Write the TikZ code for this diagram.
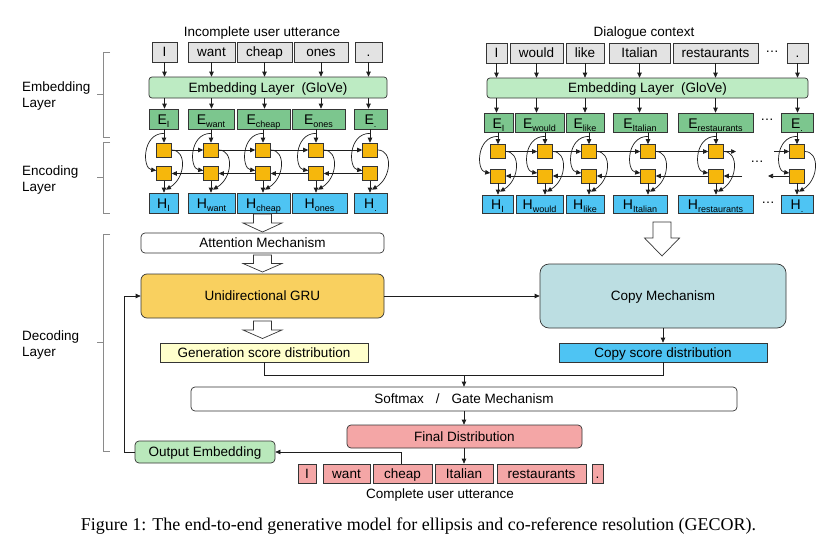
\documentclass[tikz,border=0pt]{standalone}
\usepackage{fontspec}
\setmainfont{Liberation Sans}
\newfontfamily\capfont{Liberation Serif}
\usetikzlibrary{arrows.meta,calc}
\definecolor{wgray}{HTML}{E3E3E3}
\definecolor{embg}{HTML}{BDEBC3}
\definecolor{eg}{HTML}{7CC68E}
\definecolor{sqc}{HTML}{F6B70C}
\definecolor{hb}{HTML}{4EC4F3}
\definecolor{gruc}{HTML}{F9D05F}
\definecolor{genc}{HTML}{FFFFCC}
\definecolor{copyc}{HTML}{BCDEE2}
\definecolor{finc}{HTML}{F4A6A6}
\definecolor{outc}{HTML}{B9E8BB}
\definecolor{brk}{HTML}{8A8A8A}
\definecolor{ln}{HTML}{1E1E1E}
\newcommand\bx[7]{\node[#6, minimum width={#4-#2}, minimum height={#5-#3}] (#1) at ({(#2+#4)/2},{(#3+#5)/2}) {#7};}
\newcommand\sbs[1]{\raisebox{-3.2pt}{\fontsize{9}{9}\selectfont #1}}
\newcommand\rnncol[6]{%
 \node[sqr] (#1t) at (#2,#3) {};
 \node[sqr] (#1b) at (#2,#4) {};
 \coordinate (#1e) at (#1t.north |- #5.south);
 \coordinate (#1h) at (#1b.south |- #6.north);
 \draw[arr] (#1e) -- (#1t.north);
 \draw[arr] (#1b.south) -- (#1h);
 \draw[arr] ($(#1e)+(0,4)$) .. controls +(-22,0) and +(-14,-2) .. ($(#1b.west)+(0,-3)$);
 \draw[arr] (#1t.east) .. controls +(15,0) and +(20,-12) .. ($(#1h)+(2,-3)$);
}
\newcommand\blockarrow[6]{%
 \draw[hollow] ({#1-#5},#2) -- ({#1+#5},#2) -- ({#1+#5},#3) -- ({#1+#6},#3) -- (#1,#4) -- ({#1-#6},#3) -- ({#1-#5},#3) -- cycle;}
\tikzset{
 base/.style={draw=ln!90, line width=0.7pt, inner sep=0pt, font=\fontsize{13.5}{15}\selectfont, text height=9.7pt, text depth=0pt},
 word/.style={base, fill=wgray},
 emb/.style={base, fill=embg, rounded corners=3pt},
 ebox/.style={base, fill=eg, font=\fontsize{14}{15}\selectfont, text height=11pt, text depth=0pt},
 hbox/.style={ebox, fill=hb},
 sqr/.style={draw=ln!90, line width=0.6pt, fill=sqc, minimum width=15pt, minimum height=14pt, inner sep=0pt},
 plain/.style={font=\fontsize{13.5}{15}\selectfont, inner sep=0pt},
 arr/.style={draw=ln, line width=0.7pt, -{Triangle[length=5pt,width=4.5pt]}},
 lin/.style={draw=ln, line width=0.7pt},
 hollow/.style={draw=ln!90, line width=0.7pt, fill=white},
 brace/.style={draw=brk, line width=0.8pt},
}
\begin{document}
\begin{tikzpicture}[x=1pt,y=-1pt]
\useasboundingbox (0,0) rectangle (832,543);
\fill[white] (0,0) rectangle (832,543);

% ---------- titles ----------
\node[plain, anchor=base] (tL) at (262,37) {Incomplete user utterance};
\node[plain, anchor=base] (tR) at (644,37) {Dialogue context};

% ---------- left encoder ----------
\bx{wL1}{152}{42}{177}{62}{word}{I}
\bx{wL2}{188}{42}{235}{62}{word}{want}
\bx{wL3}{237}{42}{292}{62}{word}{cheap}
\bx{wL4}{294}{42}{348}{62}{word}{ones}
\bx{wL5}{355}{42}{382}{62}{word}{.}
\bx{embL}{149}{77}{387}{98}{emb}{Embedding Layer\hspace{7pt}(GloVe)}
\bx{EL1}{149}{109}{178}{129}{ebox}{E\sbs{I}}
\bx{EL2}{188}{109}{234}{129}{ebox}{E\sbs{want}}
\bx{EL3}{237}{109}{290}{129}{ebox}{E\sbs{cheap}}
\bx{EL4}{292}{109}{345}{129}{ebox}{E\sbs{ones}}
\bx{EL5}{354}{109}{387}{129}{ebox}{E\sbs{.}}
\bx{HL1}{149}{193}{178}{213}{hbox}{H\sbs{I}}
\bx{HL2}{188}{193}{235}{213}{hbox}{H\sbs{want}}
\bx{HL3}{237}{193}{290}{213}{hbox}{H\sbs{cheap}}
\bx{HL4}{292}{193}{347}{213}{hbox}{H\sbs{ones}}
\bx{HL5}{354}{193}{387}{213}{hbox}{H\sbs{.}}
\foreach \i in {1,...,5}{
  \draw[arr] (wL\i.south) -- (wL\i.south |- embL.north);
  \draw[arr] (wL\i.south |- embL.south) -- (wL\i.south |- EL\i.north);
}
\rnncol{L1}{164}{150}{173.5}{EL1}{HL1}
\rnncol{L2}{211}{150}{173.5}{EL2}{HL2}
\rnncol{L3}{263}{150}{173.5}{EL3}{HL3}
\rnncol{L4}{316}{150}{173.5}{EL4}{HL4}
\rnncol{L5}{370}{150}{173.5}{EL5}{HL5}
\foreach \i/\j in {1/2,2/3,3/4,4/5}{
  \draw[arr] (L\i t.east) -- (L\j t.west);
  \draw[arr] (L\j b.west) -- (L\i b.east);
}

% ---------- right encoder ----------
\bx{wR1}{486}{43}{507}{63}{word}{I}
\bx{wR2}{510}{43}{563}{63}{word}{would}
\bx{wR3}{566}{43}{604}{63}{word}{like}
\bx{wR4}{609}{43}{670}{63}{word}{Italian}
\bx{wR5}{673}{43}{758}{63}{word}{restaurants}
\bx{wR6}{787}{43}{808}{63}{word}{.}
\node[plain] (dW) at (772,52) {\ldots};
\bx{embR}{487}{78}{808}{98}{emb}{Embedding Layer\hspace{7pt}(GloVe)}
\bx{ER1}{484}{113}{513}{132}{ebox}{E\sbs{I}}
\bx{ER2}{515}{113}{564}{132}{ebox}{E\sbs{would}}
\bx{ER3}{566}{113}{604}{132}{ebox}{E\sbs{like}}
\bx{ER4}{613}{113}{667}{132}{ebox}{E\sbs{Italian}}
\bx{ER5}{678}{113}{753}{132}{ebox}{E\sbs{restaurants}}
\bx{ER6}{781}{113}{813}{132}{ebox}{E\sbs{.}}
\node[plain] (dE) at (767,120) {\ldots};
\bx{HR1}{482}{195}{513}{213}{hbox}{H\sbs{I}}
\bx{HR2}{516}{195}{563}{213}{hbox}{H\sbs{would}}
\bx{HR3}{566}{195}{604}{213}{hbox}{H\sbs{like}}
\bx{HR4}{613}{195}{667}{213}{hbox}{H\sbs{Italian}}
\bx{HR5}{678}{195}{753}{213}{hbox}{H\sbs{restaurants}}
\bx{HR6}{781}{195}{813}{213}{hbox}{H\sbs{.}}
\node[plain] (dH) at (768,203) {\ldots};
\node[plain] (dN) at (757,162) {\ldots};
\foreach \i in {1,...,6}{
  \draw[arr] (wR\i.south) -- (wR\i.south |- embR.north);
  \draw[arr] (wR\i.south |- embR.south) -- (wR\i.south |- ER\i.north);
}
\rnncol{R1}{498}{151.5}{176}{ER1}{HR1}
\rnncol{R2}{545}{151.5}{176}{ER2}{HR2}
\rnncol{R3}{589}{151.5}{176}{ER3}{HR3}
\rnncol{R4}{648}{151.5}{176}{ER4}{HR4}
\rnncol{R5}{716}{151.5}{176}{ER5}{HR5}
\rnncol{R6}{797}{151.5}{176}{ER6}{HR6}
\foreach \i/\j in {1/2,2/3,3/4,4/5}{
  \draw[arr] (R\i t.east) -- (R\j t.west);
  \draw[arr] (R\j b.west) -- (R\i b.east);
}
\coordinate (gA) at (736,151.5);
\coordinate (gB) at (774,151.5);
\coordinate (gC) at (742,176);
\coordinate (gD) at (768,176);
\draw[arr] (R5t.east) -- (gA);
\draw[arr] (gB) -- (R6t.west);
\draw[arr] (gC) -- (R5b.east);
\draw[arr] (R6b.west) -- (gD);

% ---------- brackets ----------
\draw[brace] (110,52) -- (103,52) -- (103,137) -- (110,137) (103,94.5) -- (97,94.5);
\draw[brace] (110,142) -- (103,142) -- (103,213) -- (110,213) (103,177.5) -- (97,177.5);
\draw[brace] (110,234) -- (103,234) -- (103,451) -- (110,451) (103,342.5) -- (97,342.5);
\node[plain, anchor=base west] (lb1) at (22,91.5) {Embedding};
\node[plain, anchor=base west] (lb2) at (22,107.5) {Layer};
\node[plain, anchor=base west] (lb3) at (22,175) {Encoding};
\node[plain, anchor=base west] (lb4) at (22,191) {Layer};
\node[plain, anchor=base west] (lb5) at (22,340.5) {Decoding};
\node[plain, anchor=base west] (lb6) at (22,356.5) {Layer};

% ---------- decoder ----------
\blockarrow{262.5}{214}{223}{232}{9}{19.5}
\bx{att}{141}{233}{384}{253}{base, fill=white, rounded corners=4pt}{Attention Mechanism}
\blockarrow{262.5}{255}{263.5}{272}{9}{19.5}
\bx{gru}{141}{274}{384}{318}{base, fill=gruc, rounded corners=6pt}{Unidirectional GRU}
\blockarrow{262.5}{321}{330}{338.5}{9}{19.5}
\bx{gen}{160}{343}{368}{362}{base, fill=genc}{Generation score distribution}
\blockarrow{662}{222}{238}{256}{9}{17.5}
\bx{copy}{540}{264}{786}{328}{base, fill=copyc, rounded corners=9pt}{Copy Mechanism}
\bx{cps}{559}{343}{767}{362}{base, fill=hb}{Copy score distribution}
\draw[arr] (gru.east) -- (copy.west |- gru.east);
\draw[arr] (copy.south) -- (copy.south |- cps.north);

\bx{soft}{191}{387}{737}{411}{base, fill=white, rounded corners=4pt}{Softmax\hspace{12pt}/\hspace{12pt}Gate Mechanism}
\coordinate (mid) at (464,375.5);
\draw[lin] (gen.south) |- (mid) -| (cps.south);
\draw[arr] (mid) -- (mid |- soft.north);
\bx{fin}{347}{425}{582}{448}{base, fill=finc, rounded corners=4pt}{Final Distribution}
\draw[arr] (mid |- soft.south) -- (mid |- fin.north);
\bx{oe}{135}{441}{275}{463}{base, fill=outc, rounded corners=4pt}{Output Embedding}
\bx{o1}{298}{464}{316}{483}{base, fill=finc}{I}
\bx{o2}{323}{464}{370}{483}{base, fill=finc}{want}
\bx{o3}{373}{464}{432}{483}{base, fill=finc}{cheap}
\bx{o4}{435}{464}{493}{483}{base, fill=finc}{Italian}
\bx{o5}{497}{464}{586}{483}{base, fill=finc}{restaurants}
\bx{o6}{592}{464}{603}{483}{base, fill=finc}{.}
\draw[arr] (o4.north |- fin.south) -- (o4.north);
\draw[arr] ([xshift=-1.5pt]o3.north) |- (oe.east);
\draw[arr] (oe.west) -- ++(-10,0) |- (gru.west);
\node[plain, anchor=base] (cu) at (440,498) {Complete user utterance};

% ---------- caption ----------
\node[font=\capfont\fontsize{18}{20}\selectfont, inner sep=0pt, anchor=base] (cap) at (418.5,530) {Figure 1: The end-to-end generative model for ellipsis and co-reference resolution (GECOR).};
\end{tikzpicture}
\end{document}
